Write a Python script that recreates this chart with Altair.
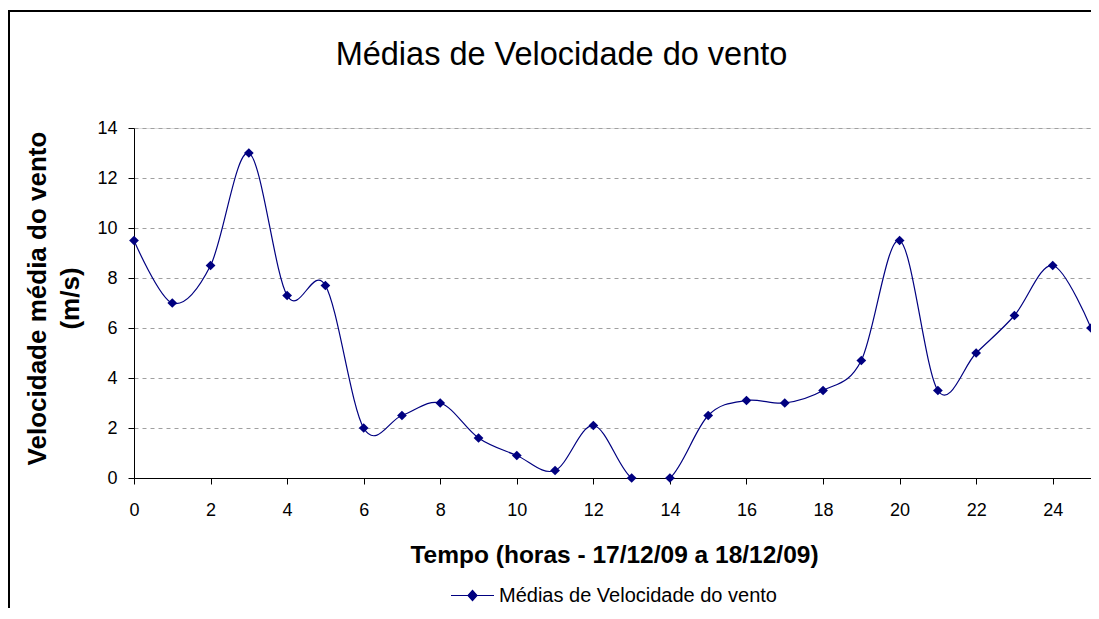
import altair as alt
import pandas as pd

# ---- data ----
horas = list(range(26))
velocidade = [9.5, 7.0, 8.5, 13.0, 7.3, 7.7, 2.0, 2.5, 3.0, 1.6, 0.9, 0.3, 2.1,
              0.0, 0.0, 2.5, 3.1, 3.0, 3.5, 4.7, 9.5, 3.5, 5.0, 6.5, 8.5, 6.0]
serie_nome = "Médias de Velocidade do vento"
titulo = "Médias de Velocidade do vento"
titulo_x = "Tempo (horas - 17/12/09 a 18/12/09)"
titulo_y = ["Velocidade média do vento", "(m/s)"]
ticks_x = list(range(0, 25, 2))
ticks_y = list(range(0, 15, 2))

df = pd.DataFrame({"hora": horas, "vel": velocidade, "serie": [serie_nome] * len(horas)})
titulo_df = pd.DataFrame({"t": [titulo]})

FONT = "Liberation Sans"
NAVY = "#000080"

x_enc = alt.X(
    "hora:Q",
    scale=alt.Scale(domain=[0, 25], nice=False, zero=False),
    axis=alt.Axis(
        values=ticks_x, title=titulo_x, grid=False,
        domainColor="#000000", tickColor="#000000", tickSize=6,
        labelFont=FONT, labelFontSize=18, labelColor="#000000", labelPadding=17,
        labelFlush=False,
        titleFont=FONT, titleFontSize=24.5, titleFontWeight="bold", titleColor="#000000",
        titleBaseline="alphabetic", titleX=480, titleY=84, titleAlign="center",
    ),
)
y_enc = alt.Y(
    "vel:Q",
    scale=alt.Scale(domain=[0, 14], nice=False),
    axis=alt.Axis(
        values=ticks_y, title=titulo_y, grid=True,
        gridColor="#a0a0a0", gridDash=[4, 4], gridWidth=1,
        domainColor="#000000", tickColor="#000000", tickSize=6,
        labelFont=FONT, labelFontSize=18, labelColor="#000000", labelPadding=11,
        titleFont=FONT, titleFontSize=26, titleFontWeight="bold", titleColor="#000000",
        titleAngle=270, titleBaseline="alphabetic", titleAlign="center",
        titleX=-89, titleY=170, titleLineHeight=33,
    ),
)

color_enc = alt.Color(
    "serie:N",
    scale=alt.Scale(range=[NAVY]),
    legend=alt.Legend(
        title=None, orient="none", legendX=316, legendY=445, padding=0,
        symbolType="M-1,0H1M0,-0.24L0.21,0L0,0.24L-0.21,0Z",
        symbolSize=1849, symbolStrokeWidth=1.2,
        symbolFillColor=NAVY, symbolStrokeColor=NAVY,
        labelFont=FONT, labelFontSize=20, labelColor="#000000", labelOffset=4,
        labelLimit=0,
    ),
)

base = alt.Chart(df)
linha = base.mark_line(interpolate="cardinal", tension=0, strokeWidth=1.2, clip=True).encode(
    x=x_enc, y=y_enc, color=color_enc
)
pontos = base.mark_point(shape="diamond", filled=True, size=95, opacity=1).encode(
    x="hora:Q", y="vel:Q", color=alt.Color("serie:N", legend=None)
)

titulo_mark = alt.Chart(titulo_df).mark_text(
    font=FONT, fontSize=32.5, color="#000000", align="center", baseline="alphabetic"
).encode(x=alt.value(427.5), y=alt.value(-63), text="t:N")

borda_df = pd.DataFrame({"k": [0]})
borda_topo = alt.Chart(borda_df).mark_rule(color="#000000", strokeWidth=2).encode(
    x=alt.value(-126), x2=alt.value(1000), y=alt.value(-117)
)
borda_esq = alt.Chart(borda_df).mark_rule(color="#000000", strokeWidth=2).encode(
    x=alt.value(-125), y=alt.value(-118), y2=alt.value(560)
)

chart = alt.layer(linha, pontos, titulo_mark, borda_topo, borda_esq).properties(
    width=957,
    height=350,
    autosize=alt.AutoSizeParams(type="none"),
    padding={"left": 126, "top": 120, "right": 0, "bottom": 130},
).configure_view(stroke=None).configure(background="white")

chart.save("out.html", embed_options={"renderer": "svg", "actions": False})
